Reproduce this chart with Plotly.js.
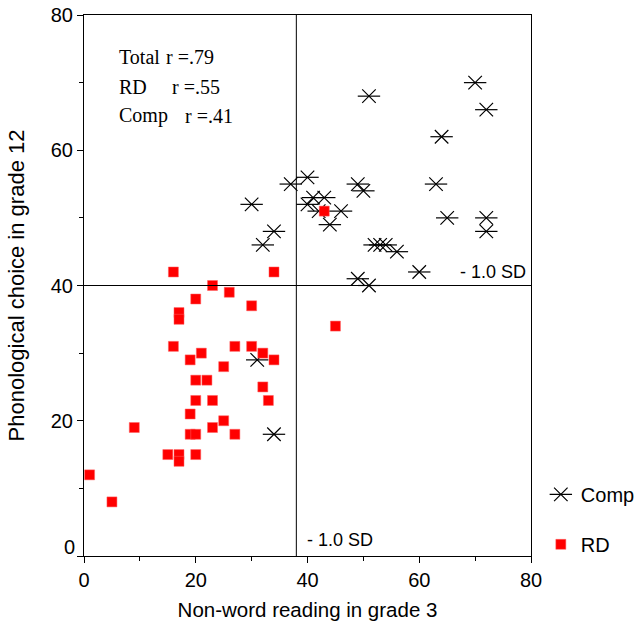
<!DOCTYPE html>
<html>
<head>
<meta charset="utf-8">
<script src="https://cdn.plot.ly/plotly-3.0.1.min.js"></script>
<style>html,body{margin:0;padding:0;background:#fff;}#chart{width:639px;height:630px;}</style>
</head>
<body>
<div id="chart"></div>
<script>
// Comp group (non-word reading grade 3, phonological choice grade 12)
const compX = [30, 31, 32, 34, 34, 37, 40, 40, 41, 43, 42, 44, 46, 49, 50, 49, 51, 51, 52, 53, 54, 56, 60, 63, 64, 65, 70, 72, 72, 72];
const compY = [52, 29, 46, 48, 18, 55, 56, 52, 53, 53, 51, 49, 51, 55, 54, 41, 40, 68, 46, 46, 46, 45, 42, 55, 62, 50, 70, 66, 50, 48];
// RD group
const rdX = [1, 5, 9, 15, 16, 16, 17, 17, 17, 17, 19, 19, 19, 20, 20, 20, 20, 22, 20, 21, 23, 23, 23, 25, 25, 26, 27, 27, 30, 30, 32, 32, 33, 34, 34, 43, 45];
const rdY = [12, 8, 19, 15, 42, 31, 15, 14, 36, 35, 29, 21, 18, 18, 15, 38, 26, 26, 23, 30, 40, 23, 19, 28, 20, 39, 31, 18, 37, 31, 30, 25, 23, 42, 29, 51, 34];
// -1.0 SD cut-offs
const cutX = 38;
const cutY = 40;
const statLabels = ['Total', 'RD', 'Comp'];
const statValues = ['r =.79', 'r =.55', 'r =.41'];
const sdLabel = '- 1.0 SD';
const xTicks = [0, 20, 40, 60, 80];
const yTicks = [0, 20, 40, 60, 80];
const minorTicks = [10, 30, 50, 70];

const sans = 'Arial, "Liberation Sans", Helvetica, sans-serif';
const serif = '"Times New Roman", "Liberation Serif", Times, serif';

const traces = [
  {
    x: compX, y: compY, type: 'scatter', mode: 'markers', name: 'Comp',
    legend: 'legend', legendgroup: 'comp',
    marker: {symbol: 'x-thin-open', size: 13.5, color: '#000', line: {color: '#000', width: 1.2}}
  },
  {
    x: compX, y: compY, type: 'scatter', mode: 'markers', name: 'Comp',
    legend: 'legend2', legendgroup: 'comp2',
    marker: {symbol: 'line-ew-open', size: 16, color: '#000', line: {color: '#000', width: 1.2}}
  },
  {
    x: rdX, y: rdY, type: 'scatter', mode: 'markers', name: 'RD',
    legend: 'legend', legendgroup: 'rd',
    marker: {symbol: 'square', size: 10, color: '#ff0000', line: {color: '#ff6060', width: 0.5}}
  }
];

// stat text block positions (paper coords)
const statLabelX = 0.074;
const statValueX = [0.178, 0.193, 0.222];
const statY = [0.9215, 0.867, 0.8134];
const annotations = [];
statLabels.forEach((lab, i) => {
  annotations.push({xref: 'paper', yref: 'paper', x: statLabelX, y: statY[i], xanchor: 'left', yanchor: 'middle',
    text: lab, showarrow: false, font: {family: serif, size: 20, color: '#000'}});
  annotations.push({xref: 'paper', yref: 'paper', x: statValueX[i], y: statY[i], xanchor: 'left', yanchor: 'middle',
    text: statValues[i], showarrow: false, font: {family: serif, size: 20, color: '#000'}});
});
annotations.push({xref: 'paper', yref: 'y', x: 0.993, y: cutY, xanchor: 'right', yanchor: 'bottom', yshift: 2,
  text: sdLabel, showarrow: false, font: {family: sans, size: 18, color: '#000'}});
annotations.push({xref: 'x', yref: 'paper', x: cutX, y: 0.008, xanchor: 'left', yanchor: 'bottom', xshift: 9,
  text: sdLabel, showarrow: false, font: {family: sans, size: 18, color: '#000'}});
// y "0" label sits a little above its tick, as in the original
annotations.push({xref: 'paper', yref: 'y', x: 0, y: yTicks[0], xanchor: 'right', yanchor: 'middle', xshift: -7, yshift: 9,
  text: String(yTicks[0]), showarrow: false, font: {family: sans, size: 20, color: '#000'}});

const legendBase = {x: 1.022, y: 0.15, xanchor: 'left', yanchor: 'top', bgcolor: 'rgba(0,0,0,0)',
  traceorder: 'grouped', tracegroupgap: 21};

const layout = {
  width: 639, height: 630,
  margin: {l: 84, r: 108, t: 15, b: 74, autoexpand: false},
  paper_bgcolor: '#fff', plot_bgcolor: '#fff',
  font: {family: sans, size: 20, color: '#000'},
  xaxis: {
    range: [0, 80], tickvals: xTicks, ticktext: xTicks.map(String),
    ticks: 'outside', ticklen: 6, tickwidth: 1, tickcolor: '#000',
    minor: {tickvals: minorTicks, ticks: 'outside', ticklen: 4, tickcolor: '#000'},
    showline: true, linecolor: '#000', linewidth: 1, mirror: true,
    showgrid: false, zeroline: false, automargin: false,
    tickfont: {family: sans, size: 20},
    title: {text: 'Non-word reading in grade 3', font: {family: sans, size: 20.5}, standoff: 12}
  },
  yaxis: {
    range: [0, 80], tickvals: yTicks, ticktext: yTicks.map((v, i) => i === 0 ? '' : String(v)),
    ticks: 'outside', ticklen: 6, tickwidth: 1, tickcolor: '#000',
    minor: {tickvals: minorTicks, ticks: 'outside', ticklen: 4, tickcolor: '#000'},
    showline: true, linecolor: '#000', linewidth: 1, mirror: true,
    showgrid: false, zeroline: false, automargin: false,
    tickfont: {family: sans, size: 20},
    title: {text: 'Phonological choice in grade 12', font: {family: sans, size: 22}, standoff: 20}
  },
  shapes: [
    {type: 'line', xref: 'x', yref: 'paper', x0: cutX, x1: cutX, y0: 0, y1: 1, line: {color: '#000', width: 1}},
    {type: 'line', xref: 'paper', yref: 'y', x0: 0, x1: 1, y0: cutY, y1: cutY, line: {color: '#000', width: 1}}
  ],
  annotations: annotations,
  legend: Object.assign({}, legendBase, {font: {family: sans, size: 20, color: '#000'}}),
  legend2: Object.assign({}, legendBase, {font: {family: sans, size: 20, color: 'rgba(0,0,0,0)'}}),
  showlegend: true
};

Plotly.newPlot('chart', traces, layout, {displayModeBar: false, staticPlot: true});
</script>
</body>
</html>
